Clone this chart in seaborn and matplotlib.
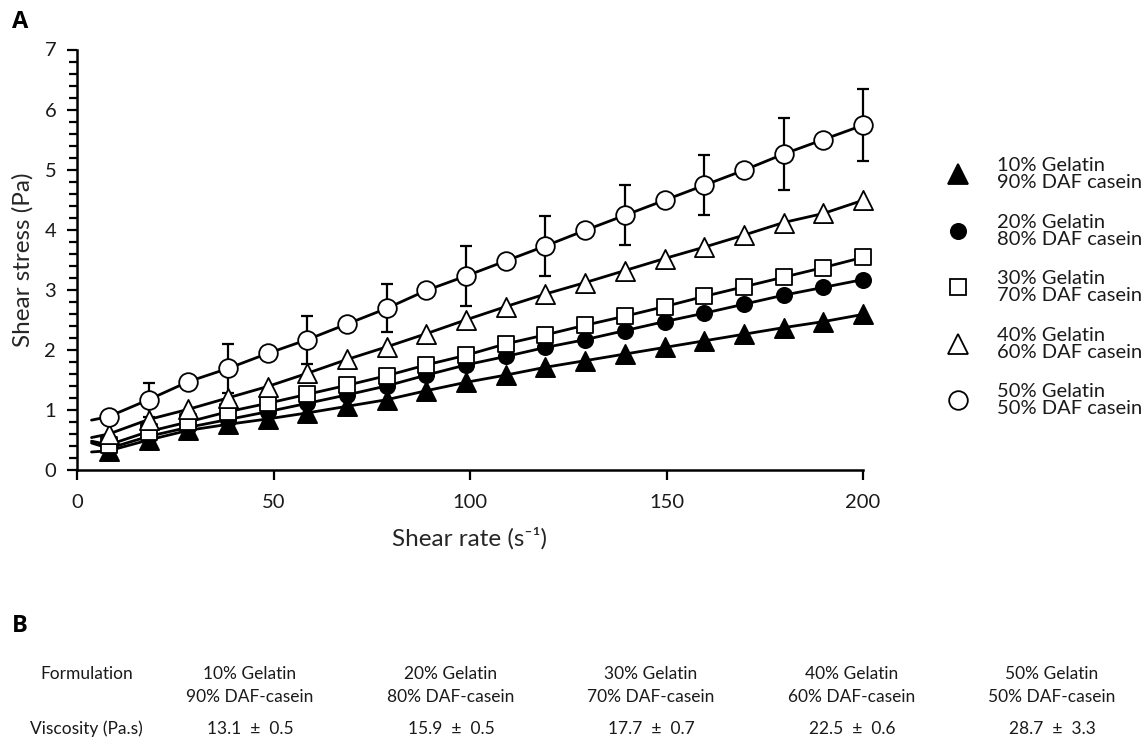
import matplotlib
matplotlib.use("Agg")
import matplotlib.pyplot as plt
import seaborn as sns
import pandas as pd
from matplotlib.lines import Line2D
from matplotlib.ticker import MultipleLocator

# ---------------- data ----------------
shear_rate = [8.1, 18.2, 28.3, 38.4, 48.5, 58.6, 68.7, 78.8, 88.9, 99.0,
              109.1, 119.2, 129.3, 139.4, 149.5, 159.6, 169.7, 179.8, 189.9, 200.0]

g10 = [0.32, 0.50, 0.66, 0.76, 0.85, 0.95, 1.06, 1.17, 1.32, 1.46,
       1.58, 1.71, 1.82, 1.93, 2.04, 2.15, 2.26, 2.37, 2.47, 2.59]
g20 = [0.36, 0.56, 0.71, 0.84, 0.97, 1.11, 1.25, 1.40, 1.58, 1.75,
       1.89, 2.04, 2.17, 2.32, 2.47, 2.61, 2.76, 2.91, 3.04, 3.17]
g30 = [0.42, 0.64, 0.80, 0.97, 1.11, 1.26, 1.41, 1.57, 1.75, 1.91,
       2.10, 2.25, 2.41, 2.56, 2.72, 2.89, 3.05, 3.21, 3.37, 3.54]
g40 = [0.60, 0.84, 1.01, 1.20, 1.39, 1.61, 1.84, 2.05, 2.27, 2.50,
       2.72, 2.93, 3.12, 3.32, 3.52, 3.71, 3.91, 4.12, 4.27, 4.49]
g50 = [0.89, 1.17, 1.47, 1.69, 1.94, 2.17, 2.43, 2.69, 2.99, 3.23,
       3.48, 3.73, 3.99, 4.24, 4.49, 4.74, 4.99, 5.26, 5.50, 5.74]

# start of the measured curves (before first marker)
curve_start_x = 3.7
curve_start = [0.30, 0.45, 0.48, 0.54, 0.83]

# error bars for the 50% series (every second point, starting with the 2nd)
g50_err = [0.28, 0.41, 0.40, 0.40, 0.50, 0.50, 0.50, 0.50, 0.60, 0.60]

legend_labels = ["10% Gelatin\n90% DAF casein", "20% Gelatin\n80% DAF casein",
                 "30% Gelatin\n70% DAF casein", "40% Gelatin\n60% DAF casein",
                 "50% Gelatin\n50% DAF casein"]

table_formulations = ["10% Gelatin\n90% DAF-casein", "20% Gelatin\n80% DAF-casein",
                      "30% Gelatin\n70% DAF-casein", "40% Gelatin\n60% DAF-casein",
                      "50% Gelatin\n50% DAF-casein"]
viscosity = [13.1, 15.9, 17.7, 22.5, 28.7]
viscosity_sd = [0.5, 0.5, 0.7, 0.6, 3.3]

x_ticks = [0, 50, 100, 150, 200]
y_ticks = [0, 1, 2, 3, 4, 5, 6, 7]

# ---------------- style ----------------
sns.set_style("ticks")
plt.rcParams["font.family"] = ["Lato", "DejaVu Sans"]
plt.rcParams["text.color"] = "#1a1a1a"

fig = plt.figure(figsize=(11.46, 7.39), dpi=100)
ax = fig.add_axes([77 / 1146, 1 - 470 / 739, (863 - 77) / 1146, (470 - 49.5) / 739])

series = [g10, g20, g30, g40, g50]
marker_styles = [
    dict(marker="^", s=190, facecolor="black"),
    dict(marker="o", s=120, facecolor="black"),
    dict(marker="s", s=140, facecolor="white"),
    dict(marker="^", s=190, facecolor="white"),
    dict(marker="o", s=180, facecolor="white"),
]

# curves
for i, ys in enumerate(series):
    df_line = pd.DataFrame({"x": [curve_start_x] + shear_rate, "y": [curve_start[i]] + ys})
    sns.lineplot(data=df_line, x="x", y="y", ax=ax, color="black", lw=2.0,
                 sort=False, zorder=2)

# error bars on 50% series
eb = ax.errorbar(shear_rate[1::2], g50[1::2], yerr=g50_err, fmt="none", ecolor="black",
                 elinewidth=1.6, capsize=4, capthick=1.6, zorder=3)
for art in eb.lines[1] + eb.lines[2]:
    art.set_clip_on(False)

# markers
for i, ys in enumerate(series):
    ms = marker_styles[i]
    df_pts = pd.DataFrame({"x": shear_rate, "y": ys})
    sns.scatterplot(data=df_pts, x="x", y="y", ax=ax, marker=ms["marker"], s=ms["s"],
                    color=ms["facecolor"], edgecolor="black", linewidth=1.3, zorder=4 + i)
for coll in ax.collections:
    coll.set_clip_on(False)

ax.set_xlim(0, 200)
ax.set_ylim(0, 7)
ax.set_xticks(x_ticks)
ax.set_yticks(y_ticks)
ax.yaxis.set_minor_locator(MultipleLocator(0.2))
ax.tick_params(axis="both", which="major", direction="out", length=7, width=1.6,
               labelsize=14.5, colors="black", pad=8)
ax.tick_params(axis="x", which="major", pad=10)
ax.tick_params(axis="y", which="minor", direction="out", length=6, width=1.6, colors="black")
for t in ax.get_xticklabels() + ax.get_yticklabels():
    t.set_color("#1a1a1a")
sns.despine(ax=ax)
for sp in ["left", "bottom"]:
    ax.spines[sp].set_linewidth(1.8)
    ax.spines[sp].set_color("black")

ax.set_xlabel("Shear rate (s\u207b\u00b9)", fontsize=17.5, labelpad=12)
ax.set_ylabel("Shear stress (Pa)", fontsize=17.5, labelpad=8)

# legend
handles = []
for ms in marker_styles:
    handles.append(Line2D([], [], linestyle="none", marker=ms["marker"],
                          markersize=ms["s"] ** 0.5, markerfacecolor=ms["facecolor"],
                          markeredgecolor="black", markeredgewidth=1.3))
leg = fig.legend(handles, legend_labels, loc="upper left",
                 bbox_to_anchor=(944 / 1146, 1 - 157 / 739), frameon=False,
                 fontsize=14.5, labelspacing=1.12, handletextpad=1.25, handlelength=1.4,
                 borderpad=0, borderaxespad=0)
for t in leg.get_texts():
    t.set_linespacing(1.0)
    t.set_color("#1a1a1a")

# panel labels
fig.text(12 / 1146, 1 - 22 / 739, "A", fontsize=17, fontweight="bold", va="center",
         ha="left", family=["Open Sans", "DejaVu Sans"], color="black")
fig.text(12 / 1146, 1 - 626 / 739, "B", fontsize=17, fontweight="bold", va="center",
         ha="left", family=["Open Sans", "DejaVu Sans"], color="black")

# table (panel B)
col_x = [250, 451, 651, 852, 1052]
fig.text(87 / 1146, 1 - 674 / 739, "Formulation", fontsize=12.5, ha="center", va="center")
fig.text(86 / 1146, 1 - 729 / 739, "Viscosity (Pa.s)", fontsize=12.5, ha="center", va="center")
for cx, form, v, sd in zip(col_x, table_formulations, viscosity, viscosity_sd):
    l1, l2 = form.split("\n")
    fig.text(cx / 1146, 1 - 674 / 739, l1, fontsize=12.5, ha="center", va="center")
    fig.text(cx / 1146, 1 - 697 / 739, l2, fontsize=12.5, ha="center", va="center")
    fig.text(cx / 1146, 1 - 729 / 739, f"{v}  \u00b1  {sd}", fontsize=12.5,
             ha="center", va="center")

fig.savefig("out.png", dpi=100)
